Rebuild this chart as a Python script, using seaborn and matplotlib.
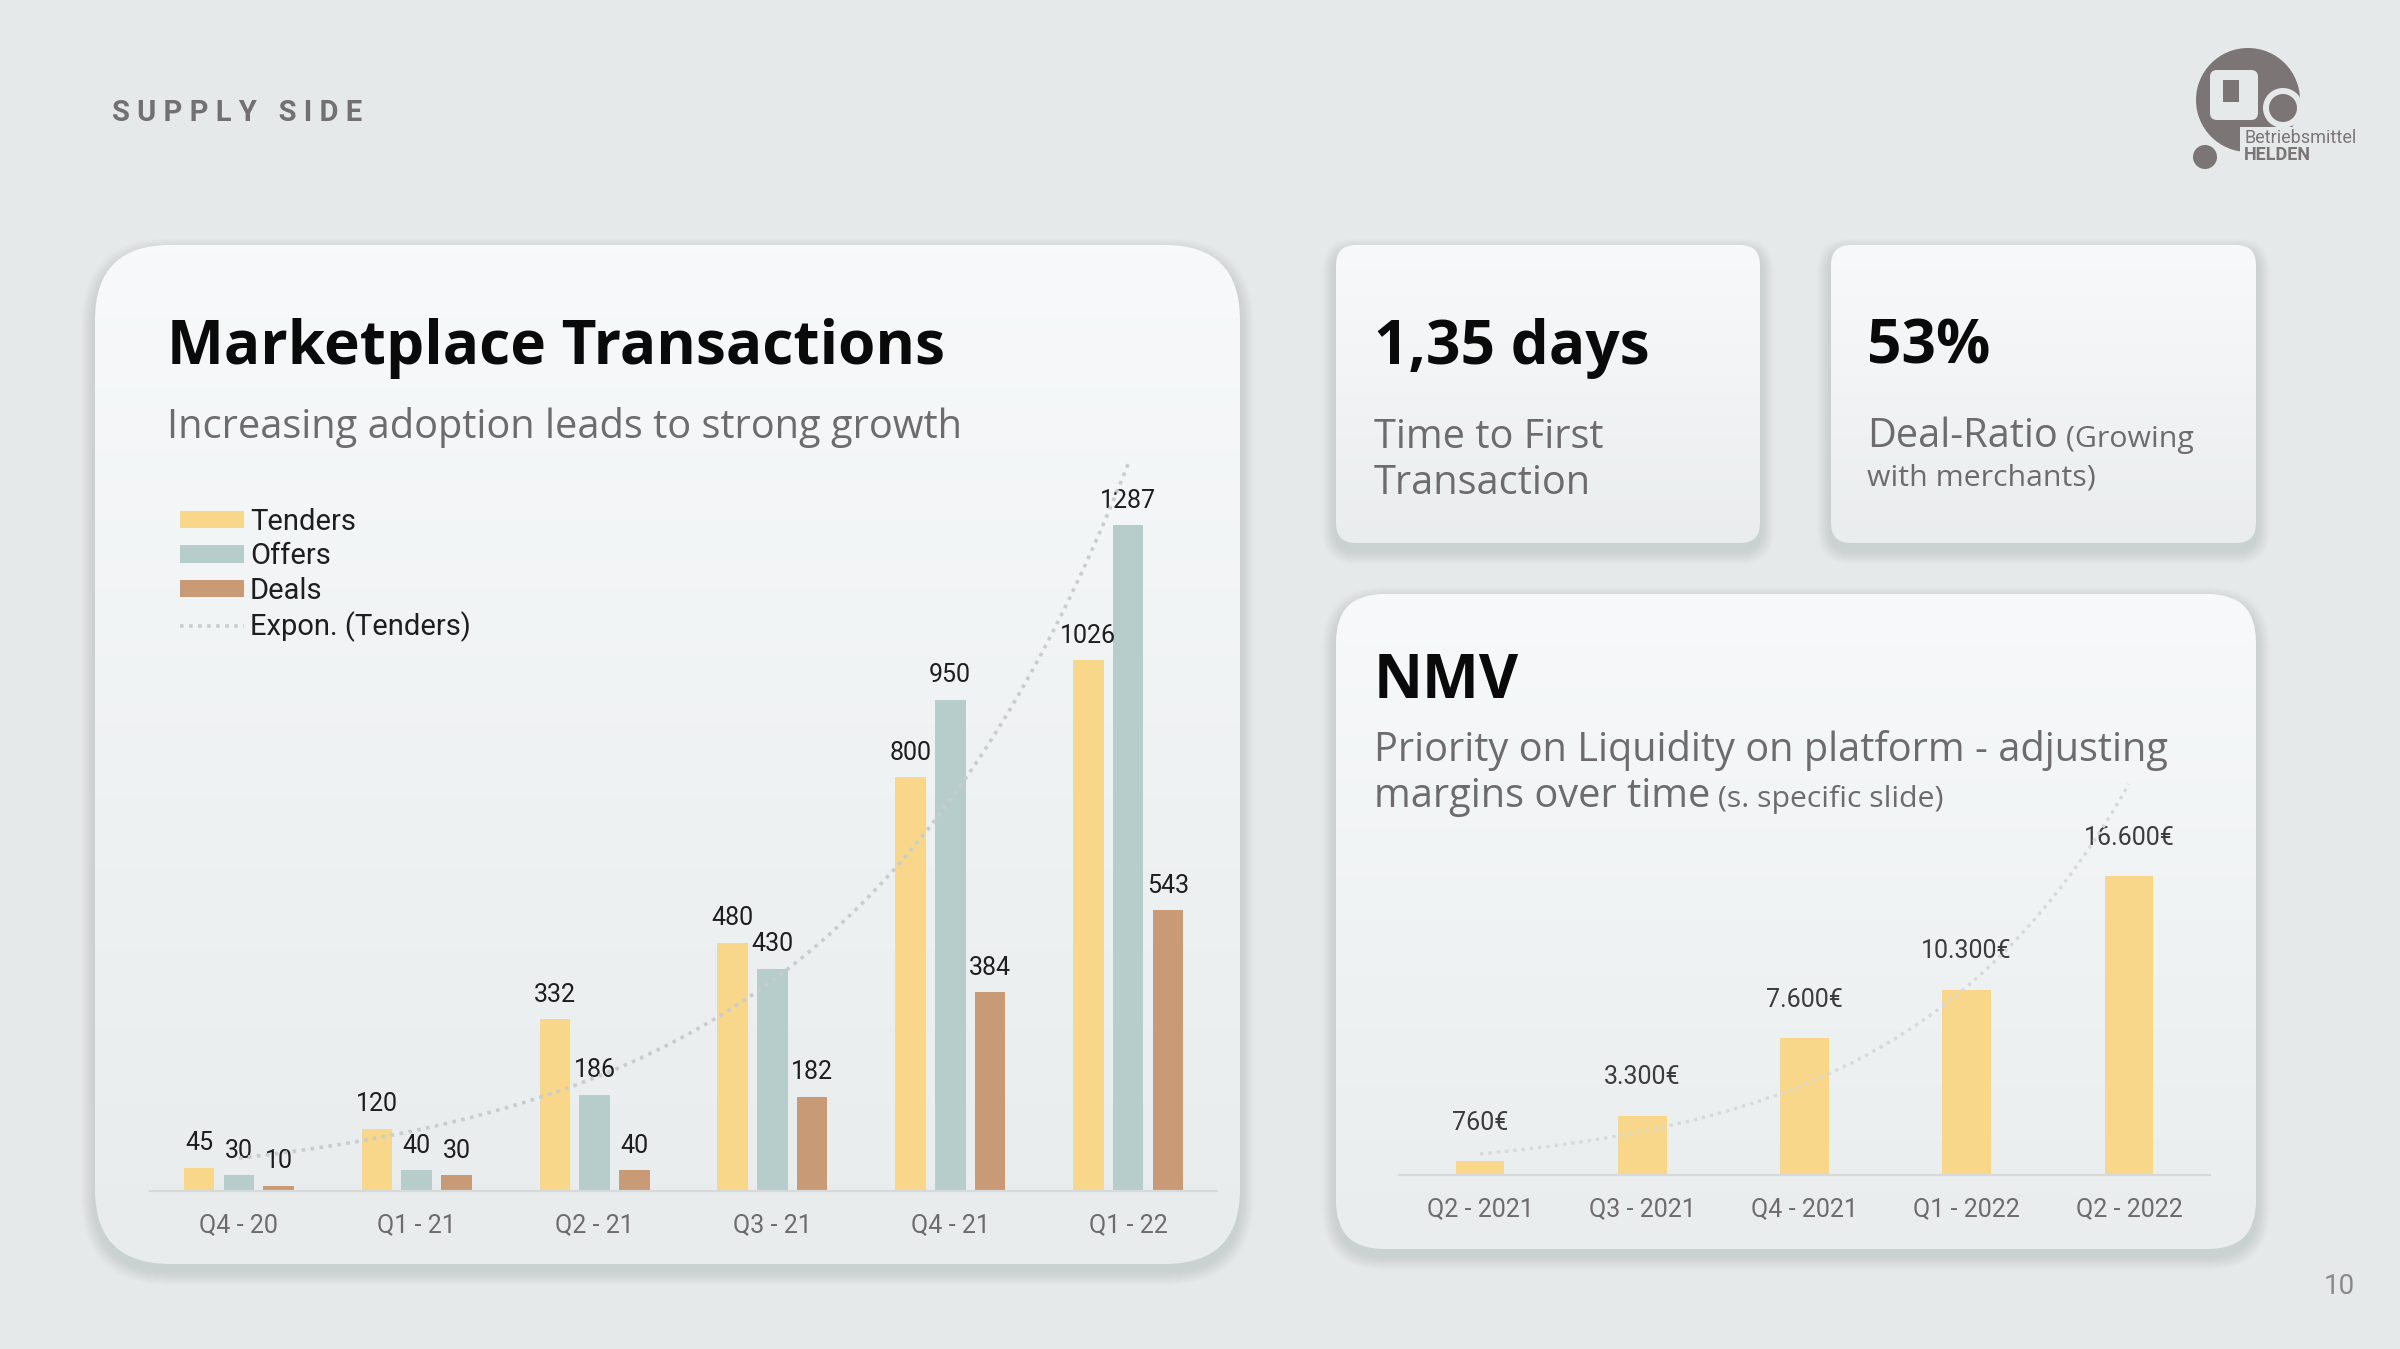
import numpy as np
import pandas as pd
import seaborn as sns
import matplotlib.pyplot as plt
from matplotlib.patches import FancyBboxPatch, Circle, Rectangle
from matplotlib.colors import LinearSegmentedColormap
from matplotlib.lines import Line2D

# --- data ---
quarters = ['Q4 - 20', 'Q1 - 21', 'Q2 - 21', 'Q3 - 21', 'Q4 - 21', 'Q1 - 22']
tenders = [45, 120, 332, 480, 800, 1026]
offers = [30, 40, 186, 430, 950, 1287]
deals = [10, 30, 40, 182, 384, 543]
series_names = ['Tenders', 'Offers', 'Deals']
bar_colors = ['#F8D68A', '#B7CDCB', '#C89A76']

nmv_quarters = ['Q2 - 2021', 'Q3 - 2021', 'Q4 - 2021', 'Q1 - 2022', 'Q2 - 2022']
nmv_values = [760, 3300, 7600, 10300, 16600]
nmv_labels = ['760€', '3.300€', '7.600€', '10.300€', '16.600€']

BG = '#E5E9E9'
GREY = '#6E6B6C'
LOGO = '#7B7576'

sns.set_theme(style='white')
plt.rcParams['font.family'] = ['Roboto', 'DejaVu Sans']

fig = plt.figure(figsize=(24, 13.49), dpi=100)
fig.patch.set_facecolor(BG)

# background layer in pixel units (y down)
bg = fig.add_axes([0, 0, 1, 1], zorder=0)
bg.axis('off')


def card(x, y, w, h, r, top, bottom):
    # soft shadow
    for i in range(14, 0, -1):
        sh = FancyBboxPatch((x - i, y - i + 7), w + 2 * i, h + 2 * i,
                            boxstyle=f'round,pad=0,rounding_size={r + i}',
                            fc='#8A9696', ec='none', alpha=0.014, zorder=1)
        bg.add_patch(sh)
    p = FancyBboxPatch((x, y), w, h, boxstyle=f'round,pad=0,rounding_size={r}',
                       fc='none', ec='none', zorder=1)
    bg.add_patch(p)
    grad = np.linspace(0, 1, 256)[:, None]
    cmap = LinearSegmentedColormap.from_list('c', [top, bottom])
    im = bg.imshow(grad, cmap=cmap, extent=(x, x + w, y + h, y), aspect='auto',
                   origin='upper', interpolation='bicubic', zorder=2)
    im.set_clip_path(p)


card(95, 245, 1145, 1019, 75, '#F7F9FA', '#E8ECEC')
card(1336, 245, 424, 298, 20, '#F8F9FA', '#EAEDEE')
card(1831, 245, 425, 298, 20, '#F8F9FA', '#EAEDEE')
card(1336, 594, 920, 655, 48, '#F7F9FA', '#E9EDED')

bg.set_xlim(0, 2400)
bg.set_ylim(1349, 0)

# header + page number
bg.text(112, 113, 'S U P P L Y   S I D E', fontsize=21, fontweight='bold',
        color='#727071', va='center', ha='left', zorder=3)
bg.text(2339, 1287, '10', fontsize=20, color='#8A8A8A', va='center', ha='center', zorder=3)

# logo (rough)
bg.add_patch(Circle((2248, 100), 52, fc=LOGO, ec='none', zorder=3))
bg.add_patch(FancyBboxPatch((2210, 70), 48, 50, boxstyle='round,pad=0,rounding_size=7',
                            fc=BG, ec='none', zorder=3))
bg.add_patch(Rectangle((2223, 80), 16, 22, fc=LOGO, ec='none', zorder=3))
bg.add_patch(Circle((2283, 108), 20, fc=BG, ec='none', zorder=3))
bg.add_patch(Circle((2283, 108), 14, fc=LOGO, ec='none', zorder=3))
bg.add_patch(Rectangle((2240, 127), 130, 40, fc=BG, ec='none', zorder=3))
bg.add_patch(Circle((2205, 157), 12, fc=LOGO, ec='none', zorder=3))
bg.text(2244, 138, 'Betriebsmittel', fontsize=13, color=LOGO, va='center', zorder=4)
bg.text(2244, 155, 'HELDEN', fontsize=13, fontweight='bold', color=LOGO, va='center', zorder=4)

# card texts
fam = ['Open Sans', 'DejaVu Sans']
title_kw = dict(fontsize=43.5, fontweight='bold', color='#0A0A0A', family=fam, zorder=3)
body_kw = dict(fontsize=28.6, color=GREY, family=fam, zorder=3)
small_kw = dict(fontsize=21.8, color=GREY, family=fam, zorder=3)

bg.text(167, 364, 'Marketplace Transactions', va='baseline', **title_kw)
bg.text(167, 438, 'Increasing adoption leads to strong growth', va='baseline', **body_kw)

bg.text(1374, 364, '1,35 days', va='baseline', **title_kw)
bg.text(1374, 448, 'Time to First', va='baseline', **body_kw)
bg.text(1374, 494, 'Transaction', va='baseline', **body_kw)

bg.text(1867, 364, '53%', va='baseline', **title_kw)
t = bg.text(1867, 447, 'Deal-Ratio', va='baseline', **body_kw)
bg.annotate(' (Growing', xy=(1, 447), xycoords=(t, 'data'), va='baseline', **small_kw)
bg.text(1867, 485, 'with merchants)', va='baseline', **small_kw)

bg.text(1374, 698, 'NMV', va='baseline', **title_kw)
bg.text(1374, 761, 'Priority on Liquidity on platform - adjusting', va='baseline', **body_kw)
t = bg.text(1374, 807, 'margins over time', va='baseline', **body_kw)
bg.annotate(' (s. specific slide)', xy=(1, 807), xycoords=(t, 'data'), va='baseline', **small_kw)

TREND = '#C9CDCD'

# --- Marketplace Transactions chart ---
ax1 = fig.add_axes([150 / 2400, (1349 - 1191) / 1349, 1067 / 2400, 750 / 1349], zorder=2)
df = pd.DataFrame({'quarter': quarters * 3,
                   'series': np.repeat(series_names, len(quarters)),
                   'value': tenders + offers + deals})
sns.barplot(data=df, x='quarter', y='value', hue='series', palette=bar_colors,
            saturation=1, width=0.67, gap=0.23, linewidth=0, ax=ax1)
for cont in ax1.containers:
    ax1.bar_label(cont, fmt='%d', padding=9, fontsize=18, color='#1E1E1E')

fit = np.polyfit(np.arange(len(tenders)), np.log(tenders), 1)
xs = np.linspace(0, len(tenders) - 1, 200)
ax1.plot(xs, np.exp(np.polyval(fit, xs)), ls=(0, (1, 1.5)), color=TREND, lw=2.6,
         zorder=4, clip_on=False)

leg = ax1.get_legend()
handles = list(leg.legend_handles)
labels = [tx.get_text() for tx in leg.get_texts()]
leg.remove()
handles.append(Line2D([], [], ls=(0, (1, 1.5)), color=TREND, lw=2.6))
labels.append('Expon. (Tenders)')
fig.legend(handles, labels, loc='upper left', bbox_to_anchor=(180 / 2400, 1 - 508 / 1349),
           frameon=False, fontsize=21, handlelength=2.2, handleheight=0.55,
           handletextpad=0.2, labelspacing=0.22, borderpad=0, borderaxespad=0,
           labelcolor='#1E1E1E')

ax1.set_xlim(-0.5, 5.5)
ax1.set_ylim(0, 1450)

# --- NMV chart ---
ax2 = fig.add_axes([1399 / 2400, (1349 - 1175) / 1349, 811 / 2400, 404.7 / 1349], zorder=2)
sns.barplot(x=nmv_quarters, y=nmv_values, color=bar_colors[0], saturation=1,
            width=0.3, linewidth=0, ax=ax2)
ax2.bar_label(ax2.containers[0], labels=nmv_labels, padding=19, fontsize=18, color='#3C3C3C')
fit2 = np.polyfit(np.arange(len(nmv_values)), np.log(nmv_values), 1)
xs2 = np.linspace(0, len(nmv_values) - 1, 200)
ax2.plot(xs2, np.exp(np.polyval(fit2, xs2)), ls=(0, (1, 1.5)), color='#D6DADA', lw=2.4,
         zorder=4, clip_on=False)
ax2.set_xlim(-0.5, 4.5)
ax2.set_ylim(0, 22500)

for ax in (ax1, ax2):
    ax.set_facecolor('none')
    for s in ('top', 'left', 'right'):
        ax.spines[s].set_visible(False)
    ax.spines['bottom'].set_color('#D6DADA')
    ax.spines['bottom'].set_linewidth(1.6)
    ax.set_yticks([])
    ax.set_xlabel('')
    ax.set_ylabel('')
    ax.tick_params(axis='x', length=0, pad=16, labelsize=18, labelcolor=GREY)

fig.savefig('out.png', dpi=100, facecolor=fig.get_facecolor())
